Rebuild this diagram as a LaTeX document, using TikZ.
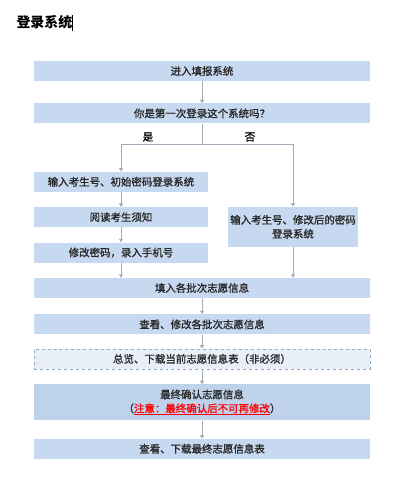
\documentclass[tikz,border=0pt]{standalone}
\usepackage{fontspec}
\setmainfont{Noto Sans CJK SC}
\newfontfamily\boxfont{Noto Sans CJK SC}[FakeBold=1.2]
\usepackage{xcolor}
\definecolor{boxfill}{RGB}{198, 217, 240}
\definecolor{notefill}{RGB}{190, 210, 236}
\definecolor{lightfill}{RGB}{232, 239, 248}
\definecolor{edge}{RGB}{150, 172, 196}
\definecolor{linegray}{RGB}{160, 172, 186}
\definecolor{textgray}{RGB}{40, 40, 40}
\usepackage{tikz}
\usetikzlibrary{arrows.meta, positioning}
\tikzstyle{box} = [rectangle, fill=boxfill, text=textgray, minimum width=336bp, minimum height=20bp, inner sep=2bp, align=center, font=\boxfont\fontsize{10.5}{14}\selectfont]
\tikzstyle{halfbox} = [box, minimum width=174bp]
\tikzstyle{dashbox} = [box, fill=lightfill, draw=edge, dashed, line width=0.6bp]
\tikzstyle{arrow} = [draw=linegray, line width=0.8bp, -{Triangle[width=4bp,length=3.5bp]}]
\tikzstyle{line} = [draw=linegray, line width=0.8bp]

\begin{document}
\begin{tikzpicture}[x=1bp, y=1bp]
    \useasboundingbox (0,0) rectangle (400,478);
    \node[anchor=west, font=\fontsize{14}{16}\selectfont\bfseries] (title) at (13,455) {登录系统\rule[-3bp]{0.9bp}{16bp}};

    \node[box] (enter) at (202,407) {进入填报系统};
    \node[box, below=22bp of enter] (first) {你是第一次登录这个系统吗？};
    \coordinate[below=21bp of first] (split);
    \node[halfbox, below=48bp of first.south west, anchor=north west] (loginA) {输入考生号、初始密码登录系统};
    \node[halfbox, below=15bp of loginA] (read) {阅读考生须知};
    \node[halfbox, below=15bp of read] (modify) {修改密码，录入手机号};
    \node[box, minimum width=130bp, minimum height=40bp, below=83bp of first.south east, xshift=-12bp, anchor=north east] (loginB) {输入考生号、修改后的密码\\登录系统};
    \node[box, below=15bp of modify.south west, anchor=north west] (fill) {填入各批次志愿信息};
    \node[box, below=16bp of fill] (check) {查看、修改各批次志愿信息};
    \node[dashbox, below=14bp of check] (overview) {总览、下载当前志愿信息表（非必须）};
    \node[box, fill=notefill, minimum height=36bp, below=15bp of overview] (confirm) {最终确认志愿信息\\（{\color{red}\underline{注意：最终确认后不可再修改}}）};
    \node[box, below=18bp of confirm] (final) {查看、下载最终志愿信息表};

    \node[font=\boxfont\fontsize{10.5}{12}\selectfont] (yes) at (148,341) {是};
    \node[font=\boxfont\fontsize{10.5}{12}\selectfont] (no) at (250,341) {否};

    \draw[arrow] (enter) -- (first);
    \draw[line] (first) -- (split);
    \draw[arrow] (split) -| (loginA);
    \draw[arrow] (split) -| (loginB);
    \draw[arrow] (loginA) -- (read);
    \draw[arrow] (read) -- (modify);
    \draw[arrow] (modify.south) -- (modify.south |- fill.north);
    \draw[arrow] (loginB.south) -- (loginB.south |- fill.north);
    \draw[arrow] (fill) -- (check);
    \draw[arrow] (check) -- (overview);
    \draw[arrow] (overview) -- (confirm);
    \draw[arrow] (confirm) -- (final);
\end{tikzpicture}
\end{document}
